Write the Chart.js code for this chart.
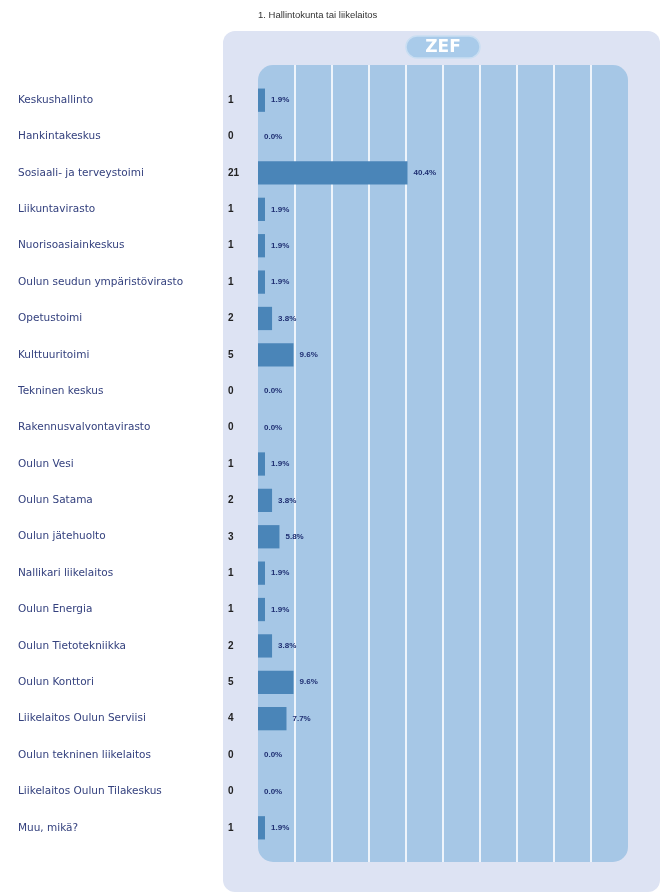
<!DOCTYPE html>
<html>
<head>
<meta charset="utf-8">
<script src="https://cdn.jsdelivr.net/npm/chart.js@4/dist/chart.umd.min.js"></script>
<style>
  html, body { margin: 0; padding: 0; background: #ffffff; }
  #wrap { width: 663px; height: 895px; }
</style>
</head>
<body>
<div id="wrap"><canvas id="chart" width="663" height="895"></canvas></div>
<script>
// data
const title = "1. Hallintokunta tai liikelaitos";
const categories = [
    "Keskushallinto", "Hankintakeskus", "Sosiaali- ja terveystoimi", "Liikuntavirasto",
    "Nuorisoasiainkeskus", "Oulun seudun ympäristövirasto", "Opetustoimi", "Kulttuuritoimi",
    "Tekninen keskus", "Rakennusvalvontavirasto", "Oulun Vesi", "Oulun Satama",
    "Oulun jätehuolto", "Nallikari liikelaitos", "Oulun Energia", "Oulun Tietotekniikka",
    "Oulun Konttori", "Liikelaitos Oulun Serviisi", "Oulun tekninen liikelaitos",
    "Liikelaitos Oulun Tilakeskus", "Muu, mikä?"
];
const counts = [1, 0, 21, 1, 1, 1, 2, 5, 0, 0, 1, 2, 3, 1, 1, 2, 5, 4, 0, 0, 1];
const percents = [1.9, 0.0, 40.4, 1.9, 1.9, 1.9, 3.8, 9.6, 0.0, 0.0, 1.9, 3.8, 5.8, 1.9, 1.9, 3.8, 9.6, 7.7, 0.0, 0.0, 1.9];

function roundRect(ctx, x, y, w, h, r) {
    ctx.beginPath();
    ctx.roundRect(x, y, w, h, r);
}

// panels, grid lines, badge and title behind the bars
const backdrop = {
    id: "backdrop",
    beforeDatasetsDraw(chart) {
        const { ctx, chartArea } = chart;
        const xs = chart.scales.x;
        ctx.save();
        // outer lavender panel
        ctx.fillStyle = "#dde3f3";
        roundRect(ctx, chartArea.left - 35, chartArea.top - 51, chartArea.width + 67, chartArea.height + 97, 12);
        ctx.fill();
        // inner blue area
        ctx.fillStyle = "#a6c7e6";
        roundRect(ctx, chartArea.left, chartArea.top - 17, chartArea.width, chartArea.height + 33, 15);
        ctx.fill();
        // vertical grid lines from the x scale
        ctx.strokeStyle = "#eef4fb";
        ctx.lineWidth = 2;
        for (let v = 10; v < 100; v += 10) {
            const px = Math.round(xs.getPixelForValue(v));
            ctx.beginPath();
            ctx.moveTo(px, chartArea.top - 17);
            ctx.lineTo(px, chartArea.bottom + 16);
            ctx.stroke();
        }
        // ZEF badge
        const bx = xs.getPixelForValue(50), by = chartArea.top - 35;
        ctx.fillStyle = "#a9cbea";
        ctx.strokeStyle = "#c9def2";
        ctx.lineWidth = 1.5;
        roundRect(ctx, bx - 37, by - 11, 74, 22, 11);
        ctx.fill();
        ctx.stroke();
        ctx.fillStyle = "#ffffff";
        ctx.font = "bold 17px 'DejaVu Sans'";
        ctx.textAlign = "center";
        ctx.textBaseline = "middle";
        ctx.fillText("ZEF", bx, by + 1);
        // title
        ctx.fillStyle = "#333333";
        ctx.font = "9.5px 'Liberation Sans'";
        ctx.textAlign = "left";
        ctx.textBaseline = "alphabetic";
        ctx.fillText(title, chartArea.left, 18);
        ctx.restore();
    }
};

// counts left of the plot and percentages after each bar
const valueLabels = {
    id: "valueLabels",
    afterDatasetsDraw(chart) {
        const { ctx, chartArea } = chart;
        const meta = chart.getDatasetMeta(0);
        ctx.save();
        ctx.textBaseline = "middle";
        meta.data.forEach((bar, i) => {
            ctx.fillStyle = "#222222";
            ctx.font = "bold 10px 'Liberation Sans'";
            ctx.textAlign = "left";
            ctx.fillText(String(counts[i]), chartArea.left - 30, bar.y);
            ctx.fillStyle = "#1f2f72";
            ctx.font = "bold 8px 'Liberation Sans'";
            ctx.fillText(percents[i].toFixed(1) + "%", bar.x + 6, bar.y);
        });
        ctx.restore();
    }
};

new Chart(document.getElementById("chart"), {
    type: "bar",
    data: {
        labels: categories,
        datasets: [{
            data: percents,
            backgroundColor: "#4a85b8",
            borderWidth: 0,
            barPercentage: 0.64,
            categoryPercentage: 1.0
        }]
    },
    options: {
        indexAxis: "y",
        responsive: false,
        animation: false,
        devicePixelRatio: 1,
        layout: { padding: { left: 18, right: 35, top: 82, bottom: 41 } },
        plugins: {
            legend: { display: false },
            tooltip: { enabled: false },
            title: { display: false }
        },
        scales: {
            x: {
                min: 0,
                max: 100,
                ticks: { display: false, stepSize: 10 },
                grid: { display: false },
                border: { display: false }
            },
            y: {
                grid: { display: false },
                border: { display: false },
                afterFit(scale) { scale.width = 240; },
                ticks: {
                    crossAlign: "far",
                    color: "#34417e",
                    font: { family: "DejaVu Sans", size: 10.5 },
                    autoSkip: false
                }
            }
        }
    },
    plugins: [backdrop, valueLabels]
});
</script>
</body>
</html>
